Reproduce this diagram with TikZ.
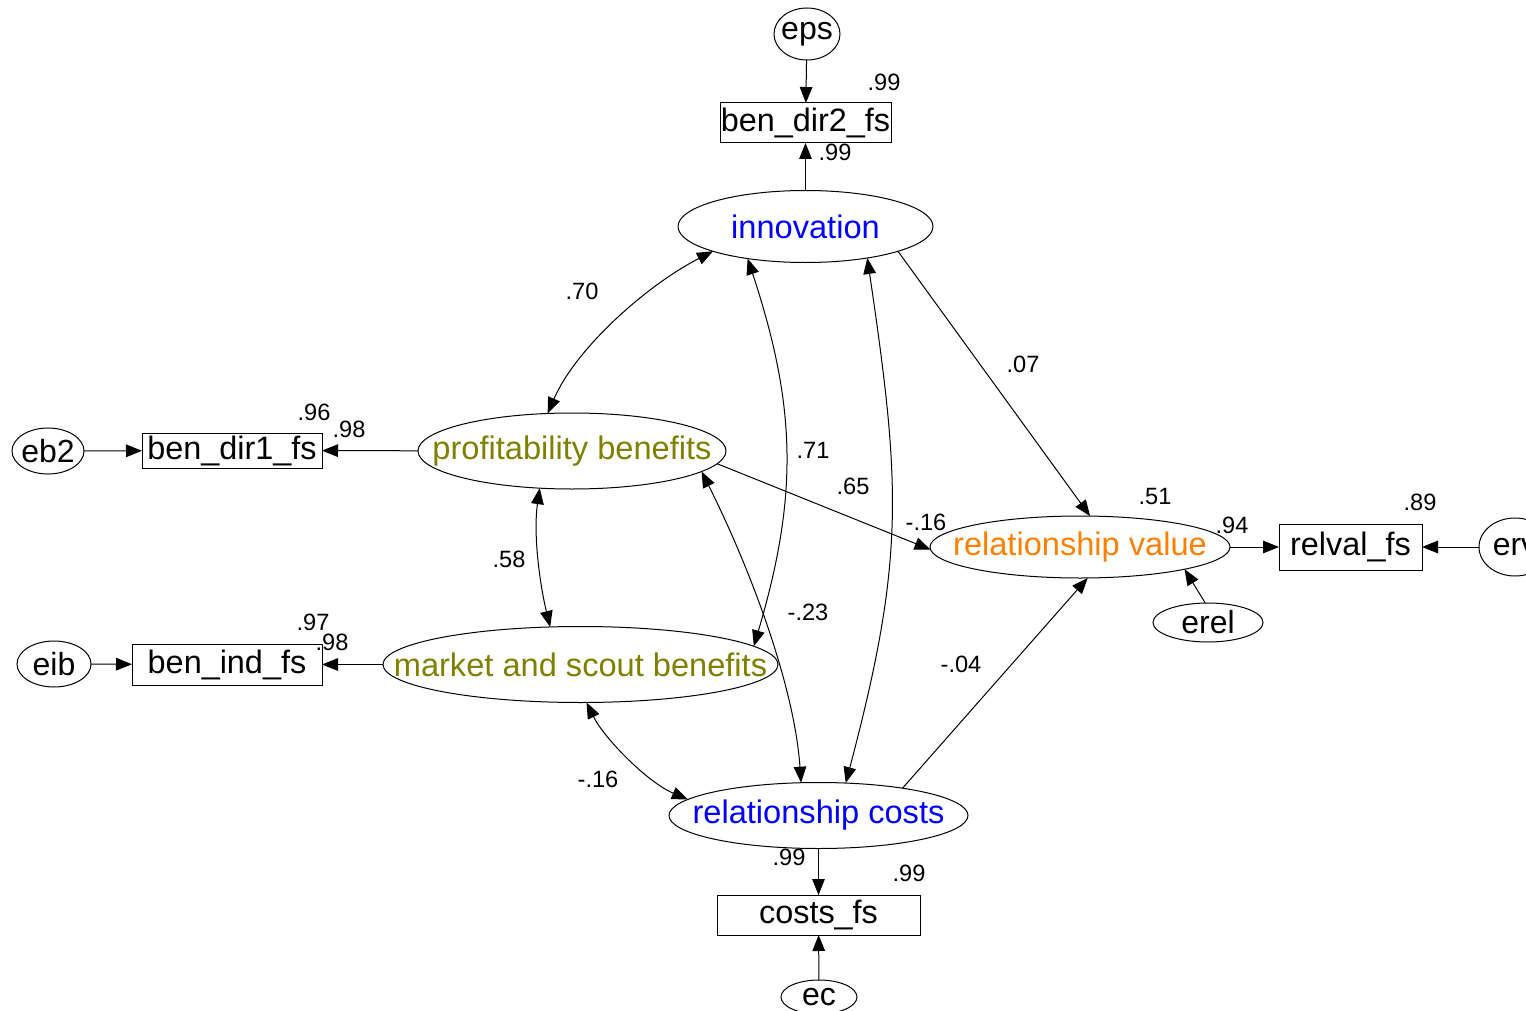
\documentclass[tikz,border=0pt]{standalone}
\usepackage{fontspec}
\setmainfont{Liberation Sans}
\usetikzlibrary{shapes.geometric,arrows.meta}
\definecolor{latblue}{RGB}{0,0,255}
\definecolor{latolive}{RGB}{128,128,0}
\definecolor{latorange}{RGB}{255,128,0}
\begin{document}
\begin{tikzpicture}[x=0.5pt,y=-0.5pt,
  every node/.style={inner sep=0pt, outer sep=0pt},
  shp/.style={ellipse, draw, line width=0.5pt},
  lattext/.style={font=\fontsize{16.3}{18}\selectfont},
  errtext/.style={font=\fontsize{16}{18}\selectfont},
  obs/.style={rectangle, draw, line width=0.5pt, font=\fontsize{16.2}{18}\selectfont},
  coef/.style={font=\fontsize{11.8}{14}\selectfont},
  tip/.tip={Triangle[length=8pt,width=6.3pt]},
  reg/.style={line width=0.5pt, -tip},
  cov/.style={line width=0.5pt, tip-tip},
]
\useasboundingbox (0,0) rectangle (1526,1011);
\clip (0,0) rectangle (1526,1011);

% latent variables
\node[shp, minimum width=127.5pt, minimum height=36pt,
  label={[name=innT, lattext, text=latblue]center:innovation}] (inn) at (805.5,226.5) {};
\node[shp, minimum width=154pt, minimum height=38pt,
  label={[name=proT, lattext, text=latolive]center:profitability benefits}] (pro) at (572,451) {};
\node[shp, minimum width=197.5pt, minimum height=38pt,
  label={[name=mksT, lattext, text=latolive]center:market and scout benefits}] (mks) at (580.5,664.5) {};
\node[shp, minimum width=150pt, minimum height=31pt,
  label={[name=rvT, lattext, text=latorange]center:relationship value}] (rv) at (1080,547) {};
\node[shp, minimum width=149.5pt, minimum height=33pt,
  label={[name=rcT, lattext, text=latblue]center:relationship costs}] (rc) at (818.5,815.5) {};

% indicators
\node[obs, minimum width=85.5pt, minimum height=20pt] (bd2) at (805.5,123) {ben\_dir2\_fs};
\node[obs, minimum width=90pt, minimum height=17.5pt] (bd1) at (232,450.5) {ben\_dir1\_fs};
\node[obs, minimum width=95pt, minimum height=20.5pt] (bin) at (227,664.5) {ben\_ind\_fs};
\node[obs, minimum width=71.5pt, minimum height=23pt] (rvf) at (1350.5,547) {relval\_fs};
\node[obs, minimum width=101.5pt, minimum height=20pt] (cf) at (818.5,915) {costs\_fs};

% error terms
\node[shp, minimum width=33pt, minimum height=26pt,
  label={[name=epsT, errtext]center:eps}] (eps) at (807,34) {};
\node[shp, minimum width=36pt, minimum height=23pt,
  label={[name=eb2T, errtext]center:eb2}] (eb2) at (48,451) {};
\node[shp, minimum width=37pt, minimum height=23pt,
  label={[name=eibT, errtext]center:eib}] (eib) at (54,664) {};
\node[shp, minimum width=36pt, minimum height=29pt,
  label={[name=ervT, errtext]center:erv}] (erv) at (1515,547) {};
\node[shp, minimum width=55pt, minimum height=19.5pt,
  label={[name=erelT, errtext]center:erel}] (erel) at (1208,622.5) {};
\node[shp, minimum width=38pt, minimum height=17pt,
  label={[name=ecT, errtext]center:ec}] (ec) at (819,997) {};

% regression paths
\draw[reg] (eps) -- (bd2);
\draw[reg] (inn) -- (bd2);
\draw[reg] (inn.345.8) -- (rv.72.1);
\draw[reg] (pro.355.8) -- (rv.181);
\draw[reg] (pro) -- (bd1);
\draw[reg] (eb2) -- (bd1);
\draw[reg] (mks) -- (bin);
\draw[reg] (eib) -- (bin);
\draw[reg] (rc.18.2) -- (rv.284.5);
\draw[reg] (rv) -- (rvf);
\draw[reg] (erv) -- (rvf);
\draw[reg] (erel.98.7) -- (rv.348.2);
\draw[reg] (rc) -- (cf);
\draw[reg] (ec) -- (cf);

% covariances
\draw[cov] (inn.195.6) .. controls (647,285) and (576,348) .. (pro.123.3);
\draw[cov] (inn.209.6) .. controls (797,408) and (798,497) .. (mks.6.8);
\draw[cov] (inn.333.4) .. controls (901,487) and (905,559) .. (rc.50.7);
\draw[cov] (pro.229.9) .. controls (533,535) and (540,585) .. (mks.129);
\draw[cov] (pro.351.3) .. controls (747,562) and (794,682) .. (rc.118.6);
\draw[cov] (mks.279) .. controls (604,738) and (647,782) .. (rc.173.7);

% estimates
\node[coef] (k1) at (884,82) {.99};
\node[coef] (k2) at (835,152) {.99};
\node[coef] (k3) at (582,291) {.70};
\node[coef] (k4) at (813,450) {.71};
\node[coef] (k5) at (1023,364) {.07};
\node[coef] (k6) at (853,486) {.65};
\node[coef] (k7) at (314,412) {.96};
\node[coef] (k8) at (349,429) {.98};
\node[coef] (k9) at (1155,496) {.51};
\node[coef] (k10) at (1232,525) {.94};
\node[coef] (k11) at (926,522) {-.16};
\node[coef] (k12) at (1420,502) {.89};
\node[coef] (k13) at (509,559) {.58};
\node[coef] (k14) at (808,612) {-.23};
\node[coef] (k15) at (313,622) {.97};
\node[coef] (k16) at (332,642) {.98};
\node[coef] (k17) at (961,664) {-.04};
\node[coef] (k18) at (598,779) {-.16};
\node[coef] (k19) at (789,857) {.99};
\node[coef] (k20) at (909,873) {.99};
\end{tikzpicture}
\end{document}
